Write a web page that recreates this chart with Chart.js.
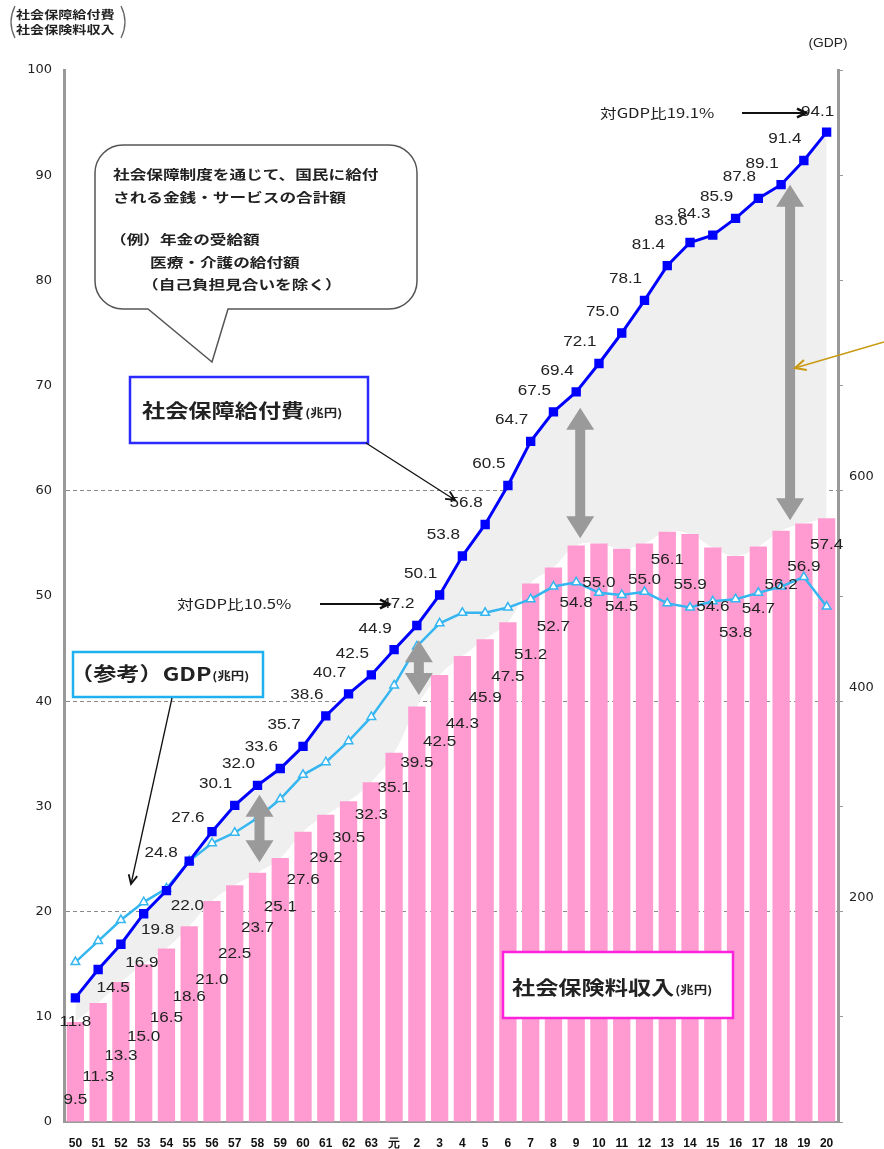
<!DOCTYPE html>
<html lang="ja">
<head>
<meta charset="utf-8">
<title>社会保障給付費と社会保険料収入の推移</title>
<script src="https://cdn.jsdelivr.net/npm/chart.js@4.4.1/dist/chart.umd.min.js"></script>
<style>
  html, body { margin: 0; padding: 0; background: #fff; }
  #wrap { position: relative; width: 884px; height: 1149px; }
</style>
</head>
<body>
<div id="wrap"><canvas id="chart_area" width="884" height="1149"></canvas></div>
<script>
"use strict"
// fiscal years (Showa 50-63, Heisei 元-20)
var years = ["50","51","52","53","54","55","56","57","58","59","60","61","62","63",
             "元","2","3","4","5","6","7","8","9","10","11","12","13","14","15","16","17","18","19","20"];
// 社会保障給付費 (兆円)
var benefits = [11.8,14.5,16.9,19.8,22.0,24.8,27.6,30.1,32.0,33.6,35.7,38.6,40.7,42.5,
                44.9,47.2,50.1,53.8,56.8,60.5,64.7,67.5,69.4,72.1,75.0,78.1,81.4,83.6,84.3,85.9,87.8,89.1,91.4,94.1];
// 社会保険料収入 (兆円)
var contributions = [9.5,11.3,13.3,15.0,16.5,18.6,21.0,22.5,23.7,25.1,27.6,29.2,30.5,32.3,
                     35.1,39.5,42.5,44.3,45.9,47.5,51.2,52.7,54.8,55.0,54.5,55.0,56.1,55.9,54.6,53.8,54.7,56.2,56.9,57.4];
// (参考) GDP (兆円), right axis
var gdp = [152,172,192,209,222,248,265,275,289,307,330,342,362,385,
           415,452,474,484,484,489,497,509,513,503,501,504,493,489,495,497,503,509,518,490];
var guideValues = [20,40,60];
var rightTickLabels = [200,400,600];

var FONT_NUM = "'Liberation Sans', Arial, sans-serif";
var FONT_JP = "'Noto Sans CJK JP', 'Liberation Sans', sans-serif";
var SX = 1.22; // the source picture is stretched sideways

// label placement (pixels), not data
var barLabelDy = [78,74,74,73,70,71,79,69,55,49,48,43,37,33,35,57,67,68,59,55,72,60,58,40,58,37,28,51,60,77,63,54,44,27];
var benefitLabelNudge = {0:[0,24],1:[15,19],2:[21,19],3:[14,16],4:[21,16],5:[-28,-8],6:[-24,-14],33:[-9,-20]};
// gray double arrows: category index, top value, bottom value, x nudge
var gapArrows = [[8,31.1,24.7,2],[15,45.8,40.6,2],[22,67.9,55.5,4],[31,89.1,57.2,9]];

function sText(ctx, text, x, y, sx){
  ctx.save();
  ctx.translate(x, y);
  ctx.scale(sx, 1);
  ctx.fillText(text, 0, 0);
  ctx.restore();
}

function lineArrow(ctx, x1, y1, x2, y2, color, w, head){
  var a = Math.atan2(y2 - y1, x2 - x1);
  ctx.save();
  ctx.strokeStyle = color;
  ctx.lineWidth = w;
  ctx.beginPath();
  ctx.moveTo(x1, y1);
  ctx.lineTo(x2, y2);
  ctx.stroke();
  ctx.lineWidth = w + 0.5;
  ctx.beginPath();
  ctx.moveTo(x2 - head * Math.cos(a - 0.45), y2 - head * Math.sin(a - 0.45));
  ctx.lineTo(x2, y2);
  ctx.lineTo(x2 - head * Math.cos(a + 0.45), y2 - head * Math.sin(a + 0.45));
  ctx.stroke();
  ctx.restore();
}

function blockArrow(ctx, x, y1, y2){
  var hw = 14, sw = 5, hl = 22;
  ctx.beginPath();
  ctx.moveTo(x, y1);
  ctx.lineTo(x + hw, y1 + hl);
  ctx.lineTo(x + sw, y1 + hl);
  ctx.lineTo(x + sw, y2 - hl);
  ctx.lineTo(x + hw, y2 - hl);
  ctx.lineTo(x, y2);
  ctx.lineTo(x - hw, y2 - hl);
  ctx.lineTo(x - sw, y2 - hl);
  ctx.lineTo(x - sw, y1 + hl);
  ctx.lineTo(x - hw, y1 + hl);
  ctx.closePath();
  ctx.fillStyle = '#9a9a9a';
  ctx.fill();
}

function titledBox(ctx, x, y, w, h, color, big, small, tx, ty){
  ctx.save();
  ctx.fillStyle = '#fff';
  ctx.fillRect(x, y, w, h);
  ctx.strokeStyle = color;
  ctx.lineWidth = 2.5;
  ctx.strokeRect(x, y, w, h);
  ctx.fillStyle = '#222';
  ctx.textAlign = 'left';
  ctx.textBaseline = 'middle';
  ctx.font = 'bold 19px ' + FONT_JP;
  sText(ctx, big, tx, ty, SX);
  var bw = ctx.measureText(big).width * SX;
  ctx.font = 'bold 11px ' + FONT_JP;
  sText(ctx, small, tx + bw + 1, ty + 2, SX);
  ctx.restore();
}

var valueLabels = {
  id: 'valueLabels',
  afterDatasetsDraw: function(chart){
    var ctx = chart.ctx;
    ctx.save();
    ctx.font = '14px ' + FONT_NUM;
    ctx.fillStyle = '#222';
    ctx.textAlign = 'center';
    ctx.textBaseline = 'middle';
    chart.getDatasetMeta(0).data.forEach(function(el, i){
      sText(ctx, contributions[i].toFixed(1), el.x, el.y + barLabelDy[i], SX);
    });
    chart.getDatasetMeta(1).data.forEach(function(el, i){
      var o = benefitLabelNudge[i] || [-19, -21];
      sText(ctx, benefits[i].toFixed(1), el.x + o[0], el.y + o[1], SX);
    });
    ctx.restore();
  }
};

var notes = {
  id: 'notes',
  afterDraw: function(chart){
    var ctx = chart.ctx;
    var xs = chart.scales.x, ys = chart.scales.y;
    ctx.save();

    // gray gap arrows
    gapArrows.forEach(function(a){
      blockArrow(ctx, xs.getPixelForValue(a[0]) + a[3], ys.getPixelForValue(a[1]), ys.getPixelForValue(a[2]));
    });

    // top-left axis caption
    ctx.fillStyle = '#222';
    ctx.font = 'bold 11px ' + FONT_JP;
    ctx.textAlign = 'left';
    ctx.textBaseline = 'middle';
    sText(ctx, '社会保障給付費', 16, 15, 1.28);
    sText(ctx, '社会保険料収入', 16, 30, 1.28);
    ctx.strokeStyle = '#666';
    ctx.lineWidth = 1.3;
    ctx.beginPath();
    ctx.moveTo(15, 6); ctx.quadraticCurveTo(7, 22, 15, 38);
    ctx.moveTo(121, 6); ctx.quadraticCurveTo(129, 22, 121, 38);
    ctx.stroke();

    ctx.font = '12px ' + FONT_NUM;
    ctx.textAlign = 'center';
    sText(ctx, '(GDP)', 828, 44, 1.15);

    // callout bubble
    var L = 95, T = 145, R = 417, B = 309, r = 28;
    ctx.beginPath();
    ctx.moveTo(L + r, T);
    ctx.lineTo(R - r, T); ctx.arcTo(R, T, R, T + r, r);
    ctx.lineTo(R, B - r); ctx.arcTo(R, B, R - r, B, r);
    ctx.lineTo(228, B); ctx.lineTo(212, 362); ctx.lineTo(148, B);
    ctx.lineTo(L + r, B); ctx.arcTo(L, B, L, B - r, r);
    ctx.lineTo(L, T + r); ctx.arcTo(L, T, L + r, T, r);
    ctx.closePath();
    ctx.fillStyle = '#fff';
    ctx.fill();
    ctx.strokeStyle = '#555';
    ctx.lineWidth = 1.5;
    ctx.stroke();
    ctx.fillStyle = '#222';
    ctx.textAlign = 'left';
    ctx.font = 'bold 13px ' + FONT_JP;
    sText(ctx, '社会保障制度を通じて、国民に給付', 113, 174, 1.28);
    sText(ctx, 'される金銭・サービスの合計額', 113, 197, 1.28);
    sText(ctx, '（例）年金の受給額', 110, 239, 1.28);
    sText(ctx, '医療・介護の給付額', 150, 262, 1.28);
    sText(ctx, '（自己負担見合いを除く）', 142, 284, 1.28);

    // series boxes
    titledBox(ctx, 130, 377, 238, 66, '#2a2aff', '社会保障給付費', '(兆円)', 142, 411);
    titledBox(ctx, 73, 652, 190, 45, '#1fb0f0', '（参考）GDP', '(兆円)', 70, 674);
    titledBox(ctx, 503, 952, 230, 66, '#ff22dd', '社会保険料収入', '(兆円)', 512, 988);

    // pointer arrows
    lineArrow(ctx, 366, 443, 455, 500, '#111', 1.3, 10);
    lineArrow(ctx, 172, 698, 131, 884, '#111', 1.3, 10);
    lineArrow(ctx, 884, 342, 795, 368, '#c99a10', 1.6, 12);

    // ratio notes
    ctx.fillStyle = '#222';
    ctx.font = '13px ' + FONT_JP;
    ctx.textAlign = 'left';
    sText(ctx, '対GDP比10.5%', 177, 604, 1.28);
    sText(ctx, '対GDP比19.1%', 600, 113, 1.28);
    lineArrow(ctx, 320, 604, 389, 604, '#111', 2, 10);
    lineArrow(ctx, 742, 113, 806, 113, '#111', 2, 10);

    ctx.restore();
  }
};

var chart = new Chart(document.getElementById('chart_area'), {
  type: 'bar',
  data: {
    labels: years,
    datasets: [
      {
        type: 'bar',
        label: '社会保険料収入',
        data: contributions,
        yAxisID: 'y',
        backgroundColor: '#ff9bd0',
        barPercentage: 0.76,
        categoryPercentage: 1.0,
        order: 3
      },
      {
        type: 'line',
        label: '社会保障給付費',
        data: benefits,
        yAxisID: 'y',
        borderColor: '#0000ff',
        borderWidth: 3,
        pointStyle: 'rect',
        pointRadius: 4.5,
        pointBackgroundColor: '#0000ff',
        pointBorderColor: '#0000ff',
        backgroundColor: '#efefef',
        fill: {target: 3},
        tension: 0,
        order: 1
      },
      {
        type: 'line',
        label: 'GDP',
        data: gdp,
        yAxisID: 'y2',
        borderColor: '#35b6f0',
        borderWidth: 2.5,
        pointStyle: 'triangle',
        pointRadius: 5,
        pointBackgroundColor: '#ffffff',
        pointBorderColor: '#35b6f0',
        pointBorderWidth: 1.5,
        fill: false,
        tension: 0,
        order: 2
      },
      {
        type: 'line',
        label: 'shade',
        data: contributions,
        yAxisID: 'y',
        borderWidth: 0,
        borderColor: 'rgba(0,0,0,0)',
        pointRadius: 0,
        fill: false,
        tension: 0.4,
        order: 4
      }
    ]
  },
  options: {
    responsive: false,
    animation: false,
    devicePixelRatio: 1,
    layout: { padding: { top: 70, left: 0, right: 0, bottom: 0 } },
    plugins: {
      legend: { display: false },
      tooltip: { enabled: false },
      filler: { drawTime: 'beforeDatasetsDraw' }
    },
    scales: {
      x: {
        grid: { display: false },
        border: { color: '#999', width: 2 },
        ticks: { font: { family: FONT_NUM, size: 12, weight: 'bold' }, color: '#111', padding: 6, maxRotation: 0, autoSkip: false },
        afterFit: function(s){ s.height = 27; }
      },
      y: {
        position: 'left',
        min: 0,
        max: 100,
        ticks: { stepSize: 10, font: { family: "'DejaVu Sans', sans-serif", size: 13 }, color: '#222', padding: 12 },
        grid: {
          color: function(c){ return guideValues.indexOf(c.tick.value) >= 0 ? '#8a8a8a' : 'rgba(0,0,0,0)'; },
          drawTicks: false,
          lineWidth: 1
        },
        border: { color: '#999', width: 3, dash: [4, 3] },
        afterFit: function(s){ s.width = 64; }
      },
      y2: {
        position: 'right',
        min: 0,
        max: 1000,
        ticks: {
          stepSize: 100,
          font: { family: "'DejaVu Sans', sans-serif", size: 13 },
          color: '#222',
          padding: 6,
          labelOffset: -14,
          callback: function(v){ return rightTickLabels.indexOf(v) >= 0 ? v : ''; }
        },
        grid: { drawOnChartArea: false, color: '#999', tickLength: 5 },
        border: { color: '#999', width: 3 },
        afterFit: function(s){ s.width = 46; }
      }
    }
  },
  plugins: [valueLabels, notes]
});
</script>
</body>
</html>
